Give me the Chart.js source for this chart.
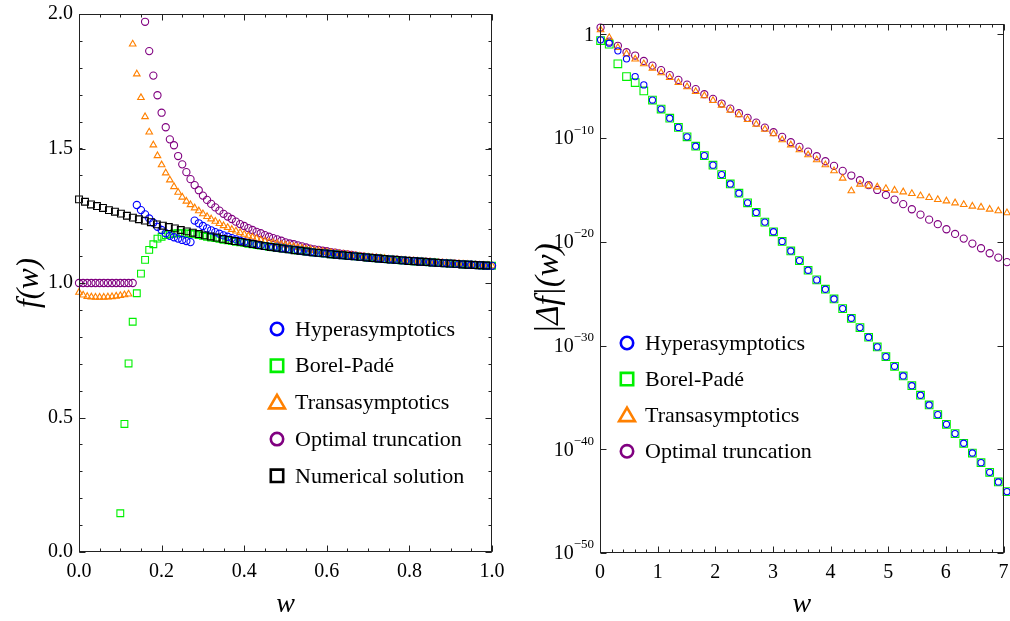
<!DOCTYPE html>
<html lang="en">
<head>
<meta charset="UTF-8" />
<title>f(w) and its error</title>
<script src="https://cdn.jsdelivr.net/npm/chart.js"></script>
<style>
  body { margin: 0; background: #fff; }
  .panel { position: absolute; top: 0; width: 505px; height: 621px; }
  #left { left: 0; }
  #right { left: 505px; }
</style>
</head>
<body>
<div class="panel" id="left"><canvas id="fChart" width="505" height="621"></canvas></div>
<div class="panel" id="right"><canvas id="errChart" width="505" height="621"></canvas></div>

<script>
// ---- left panel: f(w) ----
const wLeft = [0,0.01,0.02,0.03,0.04,0.05,0.06,0.07,0.08,0.09,0.1,0.11,0.12,0.13,0.14,0.15,0.16,0.17,0.18,0.19,
  0.2,0.21,0.22,0.23,0.24,0.25,0.26,0.27,0.28,0.29,0.3,0.31,0.32,0.33,0.34,0.35,0.36,0.37,0.38,0.39,
  0.4,0.41,0.42,0.43,0.44,0.45,0.46,0.47,0.48,0.49,0.5,0.51,0.52,0.53,0.54,0.55,0.56,0.57,0.58,0.59,
  0.6,0.61,0.62,0.63,0.64,0.65,0.66,0.67,0.68,0.69,0.7,0.71,0.72,0.73,0.74,0.75,0.76,0.77,0.78,0.79,
  0.8,0.81,0.82,0.83,0.84,0.85,0.86,0.87,0.88,0.89,0.9,0.91,0.92,0.93,0.94,0.95,0.96,0.97,0.98,0.99,1];

const hyperF = [null,null,null,null,null,null,null,null,null,null,null,null,null,null,
  1.290,1.271,1.255,1.240,1.224,1.209,1.197,1.185,1.175,1.170,1.165,1.160,1.156,1.152,
  1.232,1.222,1.212,1.203,1.196,1.189,1.183,1.177,1.172,1.167,1.162,1.157,1.153,1.149,1.146,1.143,1.140,
  1.137,1.135,1.133,1.131,1.129,1.127,1.125,1.123,1.121,1.119,1.117,1.115,1.113,1.112,1.110,1.109,1.107,1.106,1.104,1.103,
  1.101,1.100,1.099,1.097,1.096,1.094,1.093,1.092,1.090,1.089,1.088,1.087,1.086,1.084,1.083,1.082,1.081,1.080,1.079,1.078,
  1.077,1.076,1.075,1.074,1.073,1.072,1.071,1.070,1.069,1.068,1.068,1.067,1.066,1.065,1.064,1.064];

const borelF = [null,null,null,null,null,null,null,null,null,null,
  0.144,0.476,0.701,0.856,0.962,1.035,1.086,1.123,1.144,1.165,1.172,1.178,1.182,1.184,1.185,1.185,1.184,1.183,1.181,1.178,1.175,
  1.172,1.169,1.167,1.164,1.161,1.159,1.156,1.153,1.151,1.149,1.146,1.144,1.141,1.139,
  1.137,1.135,1.133,1.131,1.129,1.127,1.125,1.123,1.121,1.119,1.117,1.115,1.113,1.112,1.110,1.109,1.107,1.106,1.104,1.103,
  1.101,1.100,1.099,1.097,1.096,1.094,1.093,1.092,1.090,1.089,1.088,1.087,1.086,1.084,1.083,1.082,1.081,1.080,1.079,1.078,
  1.077,1.076,1.075,1.074,1.073,1.072,1.071,1.070,1.069,1.068,1.068,1.067,1.066,1.065,1.064,1.064];

const transF = [0.965,0.955,0.950,0.948,0.947,0.947,0.947,0.948,0.949,0.951,0.953,0.956,0.959,
  1.888,1.777,1.689,1.618,1.561,1.513,1.473,1.439,1.409,1.383,1.358,1.337,1.319,1.304,
  1.291,1.279,1.268,1.257,1.247,1.238,1.229,1.221,1.213,1.206,1.199,1.193,1.187,1.181,1.175,1.170,1.165,1.160,1.156,
  1.152,1.149,1.146,1.143,1.141,1.138,1.135,1.132,1.130,1.126,1.124,1.121,1.119,1.117,1.115,1.113,1.111,1.109,1.107,1.105,
  1.103,1.102,1.100,1.098,1.096,1.095,1.094,1.092,1.091,1.089,1.088,1.087,1.085,1.084,1.083,1.082,1.081,1.080,1.079,1.078,
  1.077,1.076,1.075,1.074,1.073,1.072,1.071,1.070,1.069,1.068,1.067,1.066,1.065,1.065,1.064];

const optimalF = [1,1,1,1,1,1,1,1,1,1,1,1,1,1,null,null,
  1.971,1.862,1.771,1.698,1.633,1.579,1.534,1.512,1.472,1.441,1.412,1.386,1.364,1.345,1.325,1.309,
  1.294,1.281,1.269,1.257,1.247,1.238,1.228,1.219,1.212,1.204,1.197,1.190,1.185,1.178,1.172,1.167,1.162,1.157,
  1.151,1.147,1.144,1.140,1.136,1.132,1.128,1.125,1.123,1.120,1.118,1.115,1.113,1.110,1.108,1.106,1.104,1.102,1.100,1.098,
  1.096,1.094,1.093,1.091,1.090,1.089,1.088,1.087,1.085,1.084,1.083,1.082,1.081,1.080,1.079,1.078,1.077,1.076,1.075,1.074,
  1.073,1.072,1.071,1.070,1.069,1.068,1.067,1.066,1.065,1.065,1.064];

// numerical solution sits on its own, coarser grid
const wNum = [0,0.0145,0.029,0.0435,0.058,0.0725,0.087,0.1015,0.116,0.1305,0.145,0.1595,0.174,0.1885,0.203,0.2175,
  0.232,0.2465,0.261,0.2755,0.29,0.3045,0.319,0.3335,0.348,0.3625,0.377,0.3915,0.406,0.4205,0.435,0.4495,0.464,0.4785,
  0.493,0.5075,0.522,0.5365,0.551,0.5655,0.58,0.5945,0.609,0.6235,0.638,0.6525,0.667,0.6815,0.696,0.7105,0.725,0.7395,
  0.754,0.7685,0.783,0.7975,0.812,0.8265,0.841,0.8555,0.87,0.8845,0.899,0.9135,0.928,0.9425,0.957,0.9715,0.986];
const numericalF = [1.311,1.302,1.292,1.286,1.279,1.271,1.265,1.258,1.250,1.243,1.237,1.232,1.226,1.218,1.213,1.208,
  1.203,1.197,1.192,1.187,1.182,1.177,1.173,1.169,1.164,1.160,1.156,1.153,1.149,1.145,1.141,1.137,1.134,1.131,
  1.128,1.125,1.122,1.120,1.117,1.114,1.112,1.110,1.107,1.105,1.103,1.101,1.099,1.097,1.095,1.093,1.091,1.089,
  1.087,1.086,1.084,1.082,1.081,1.079,1.078,1.076,1.075,1.073,1.072,1.071,1.069,1.068,1.067,1.066,1.065];

// ---- right panel: |Δf|(w), stored as log10 ----
const wRight = [0.01,0.16,0.31,0.46,0.61,0.76,0.91,1.06,1.21,1.36,1.51,1.66,1.81,1.96,2.11,2.26,2.41,2.56,2.71,2.86,
  3.01,3.16,3.31,3.46,3.61,3.76,3.91,4.06,4.21,4.36,4.51,4.66,4.81,4.96,5.11,5.26,5.41,5.56,5.71,5.86,
  6.01,6.16,6.31,6.46,6.61,6.76,6.91,7.06];

const hyperLogErr = [-0.53,-0.85,-1.59,-2.36,-4.07,-4.87,-6.33,-7.20,-8.08,-8.97,-9.88,-10.78,-11.69,-12.61,-13.52,-14.42,
  -15.31,-16.24,-17.17,-18.10,-19.03,-19.96,-20.88,-21.81,-22.74,-23.67,-24.57,-25.51,-26.44,-27.37,-28.27,-29.20,
  -30.13,-31.07,-32.00,-32.93,-33.87,-34.79,-35.73,-36.66,-37.59,-38.49,-39.42,-40.36,-41.29,-42.22,-43.15,-44.08];
const borelLogErr = [-0.60,-0.95,-2.84,-4.07,-4.65,-5.45,-6.33,-7.20,-8.08,-8.97,-9.88,-10.78,-11.69,-12.61,-13.52,-14.42,
  -15.31,-16.24,-17.17,-18.10,-19.03,-19.96,-20.88,-21.81,-22.74,-23.67,-24.57,-25.51,-26.44,-27.37,-28.27,-29.20,
  -30.13,-31.07,-32.00,-32.93,-33.87,-34.79,-35.73,-36.66,-37.59,-38.49,-39.42,-40.36,-41.29,-42.22,-43.15,-44.08];
const transLogErr = [0.43,-0.31,-1.27,-1.88,-2.39,-2.84,-3.26,-3.71,-4.17,-4.65,-5.06,-5.52,-5.93,-6.38,-6.83,-7.32,
  -7.76,-8.21,-8.67,-9.15,-9.59,-10.17,-10.66,-11.14,-11.62,-12.10,-12.58,-13.16,-13.87,-15.09,-14.45,-14.61,
  -14.71,-14.87,-15.03,-15.19,-15.35,-15.57,-15.74,-15.93,-16.06,-16.25,-16.41,-16.57,-16.66,-16.86,-17.02,-17.20];
const optimalLogErr = [0.66,-0.70,-1.10,-1.72,-2.04,-2.56,-3.01,-3.45,-3.93,-4.39,-4.84,-5.28,-5.77,-6.22,-6.67,-7.16,
  -7.60,-8.05,-8.51,-8.99,-9.43,-9.88,-10.40,-10.85,-11.30,-11.75,-12.23,-12.68,-13.16,-13.61,-14.06,-14.54,
  -15.00,-15.48,-15.93,-16.37,-16.86,-17.38,-17.86,-18.30,-18.79,-19.24,-19.69,-20.17,-20.62,-21.10,-21.52,-21.96];

// y tick labels of the log axis: base and superscript
const errTickValues = [1e-50, 1e-40, 1e-30, 1e-20, 1e-10, 1];
const errTickBase = ['10', '10', '10', '10', '10', '1'];
const errTickExp = ['−50', '−40', '−30', '−20', '−10', ''];

const BLUE = '#0000ff', GREEN = '#00f000', ORANGE = '#ff8000', PURPLE = '#800080', BLACK = '#000000';
const SERIF = '"Liberation Serif", "Times New Roman", serif';

Chart.defaults.font.family = SERIF;
Chart.defaults.color = '#000';

function series(label, xs, ys, color, style, radius) {
  const pts = [];
  xs.forEach((x, i) => { if (ys[i] !== null) pts.push({ x: x, y: ys[i] }); });
  return {
    label: label, data: pts, showLine: false, clip: false,
    pointStyle: style, pointRadius: radius, pointBorderWidth: 1.1,
    pointBorderColor: color, pointBackgroundColor: 'rgba(0,0,0,0)'
  };
}

function steps(from, to, step) {
  const out = [];
  for (let v = from; v <= to + step / 1000; v += step) out.push(v);
  return out;
}

function drawMarker(ctx, style, x, y, r, color, lw) {
  ctx.beginPath();
  ctx.strokeStyle = color;
  ctx.lineWidth = lw;
  if (style === 'circle') ctx.arc(x, y, r, 0, 2 * Math.PI);
  else if (style === 'rect') ctx.rect(x - r, y - r, 2 * r, 2 * r);
  else {
    ctx.moveTo(x, y - r * 1.15);
    ctx.lineTo(x + r * 1.2, y + r * 0.9);
    ctx.lineTo(x - r * 1.2, y + r * 0.9);
    ctx.closePath();
  }
  ctx.stroke();
}

// box frame with inward ticks on all four sides
const frameTicks = {
  id: 'frameTicks',
  afterDraw(chart, args, opts) {
    const { ctx, chartArea: a, scales } = chart;
    ctx.save();
    ctx.strokeStyle = '#222';
    ctx.lineWidth = 1;
    const L = Math.round(a.left) + 0.5, R = Math.round(a.right) - 0.5;
    const T = Math.round(a.top) + 0.5, B = Math.round(a.bottom) - 0.5;
    ctx.beginPath();
    opts.x.forEach(([vals, len]) => vals.forEach(v => {
      const px = Math.round(scales.x.getPixelForValue(v)) + 0.5;
      ctx.moveTo(px, B); ctx.lineTo(px, B - len);
      ctx.moveTo(px, T); ctx.lineTo(px, T + len);
    }));
    opts.y.forEach(([vals, len]) => vals.forEach(v => {
      const py = Math.round(scales.y.getPixelForValue(v)) + 0.5;
      ctx.moveTo(L, py); ctx.lineTo(L + len, py);
      ctx.moveTo(R, py); ctx.lineTo(R - len, py);
    }));
    ctx.stroke();
    ctx.strokeRect(L, T, R - L, B - T);
    ctx.restore();
  }
};

// power-of-ten labels with real superscripts
const powerLabels = {
  id: 'powerLabels',
  afterDraw(chart, args, opts) {
    if (!opts.values) return;
    const { ctx, chartArea: a, scales } = chart;
    ctx.save();
    ctx.fillStyle = '#000';
    ctx.textBaseline = 'middle';
    opts.values.forEach((v, i) => {
      const py = scales.y.getPixelForValue(v);
      ctx.font = '13px ' + SERIF;
      const ew = ctx.measureText(opts.exps[i]).width;
      const end = a.left - 6 - ew;
      ctx.textAlign = 'left';
      ctx.fillText(opts.exps[i], end, py - 8);
      ctx.font = '20px ' + SERIF;
      ctx.textAlign = 'right';
      ctx.fillText(opts.bases[i], end, py + 1);
    });
    ctx.restore();
  }
};

// legend inside the plot area
const markerKey = {
  id: 'markerKey',
  afterDraw(chart, args, opts) {
    const ctx = chart.ctx;
    ctx.save();
    ctx.font = '22px ' + SERIF;
    ctx.textBaseline = 'middle';
    chart.data.datasets.forEach((ds, i) => {
      const y = opts.top + i * opts.gap;
      drawMarker(ctx, ds.pointStyle, opts.left, y, ds.pointStyle === 'triangle' ? 6.6 : 6.2, ds.pointBorderColor, 2.6);
      ctx.fillStyle = '#000';
      ctx.fillText(ds.label, opts.left + 18, y + 1);
    });
    ctx.restore();
  }
};

const noGrid = { display: false, drawTicks: false };
function fixX(h) { return s => { s.height = h; s.paddingLeft = 0; s.paddingRight = 0; }; }
function fixY(w) { return s => { s.width = w; s.paddingTop = 0; s.paddingBottom = 0; }; }

const numerical = series('Numerical solution', wNum, numericalF, BLACK, 'rect', 4.8);
numerical.order = -1; // drawn on top of the approximations

new Chart(document.getElementById('fChart'), {
  type: 'scatter',
  data: {
    datasets: [
      series('Hyperasymptotics', wLeft, hyperF, BLUE, 'circle', 3.6),
      series('Borel-Padé', wLeft, borelF, GREEN, 'rect', 4.8),
      series('Transasymptotics', wLeft, transF, ORANGE, 'triangle', 3.8),
      series('Optimal truncation', wLeft, optimalF, PURPLE, 'circle', 3.6),
      numerical
    ]
  },
  options: {
    responsive: false, animation: false, events: [],
    layout: { padding: { top: 14, right: 13, left: 0, bottom: 0 } },
    plugins: {
      legend: { display: false }, tooltip: { enabled: false },
      frameTicks: { x: [[steps(0, 1, 0.2), 6], [steps(0, 1, 0.05), 3]], y: [[steps(0, 2, 0.5), 6], [steps(0, 2, 0.1), 3]] },
      markerKey: { left: 277, top: 329, gap: 36.7 }
    },
    scales: {
      x: {
        type: 'linear', min: 0, max: 1, grid: noGrid, border: { display: false },
        ticks: { stepSize: 0.2, padding: 8, font: { size: 20 }, callback: v => v.toFixed(1) },
        title: { display: true, text: 'w', font: { size: 28, style: 'italic' }, padding: { top: 0, bottom: 0 } },
        afterFit: fixX(69)
      },
      y: {
        type: 'linear', min: 0, max: 2, grid: noGrid, border: { display: false },
        ticks: { stepSize: 0.5, padding: 6, font: { size: 20 }, callback: v => v.toFixed(1) },
        title: { display: true, text: 'f(w)', font: { size: 31, style: 'italic' }, padding: { top: 11, bottom: 0 } },
        afterFit: fixY(79)
      }
    }
  },
  plugins: [frameTicks, markerKey]
});

const logPts = arr => arr.map(v => Math.pow(10, v));

new Chart(document.getElementById('errChart'), {
  type: 'scatter',
  data: {
    datasets: [
      series('Hyperasymptotics', wRight, logPts(hyperLogErr), BLUE, 'circle', 3.1),
      series('Borel-Padé', wRight, logPts(borelLogErr), GREEN, 'rect', 5.4),
      series('Transasymptotics', wRight, logPts(transLogErr), ORANGE, 'triangle', 3.8),
      series('Optimal truncation', wRight, logPts(optimalLogErr), PURPLE, 'circle', 3.6)
    ]
  },
  options: {
    responsive: false, animation: false, events: [],
    layout: { padding: { top: 24, right: 3, left: 0, bottom: 0 } },
    plugins: {
      legend: { display: false }, tooltip: { enabled: false },
      frameTicks: { x: [[steps(0, 7, 1), 6], [steps(0, 7, 0.2), 3]], y: [[errTickValues, 6]] },
      powerLabels: { values: errTickValues, bases: errTickBase, exps: errTickExp },
      markerKey: { left: 122, top: 343, gap: 36.1 }
    },
    scales: {
      x: {
        type: 'linear', min: 0, max: 7, grid: noGrid, border: { display: false },
        ticks: { stepSize: 1, padding: 8, font: { size: 20 } },
        title: { display: true, text: 'w', font: { size: 28, style: 'italic' }, padding: { top: 0, bottom: 0 } },
        afterFit: fixX(68)
      },
      y: {
        type: 'logarithmic', min: 1e-50, max: 10, grid: noGrid, border: { display: false },
        afterBuildTicks(s) { s.ticks = errTickValues.map(v => ({ value: v })); },
        ticks: { display: false },
        title: { display: true, text: '|Δf|(w)', font: { size: 33, style: 'italic' }, padding: { top: 25, bottom: 0 } },
        afterFit: fixY(95)
      }
    }
  },
  plugins: [frameTicks, powerLabels, markerKey]
});
</script>
</body>
</html>
